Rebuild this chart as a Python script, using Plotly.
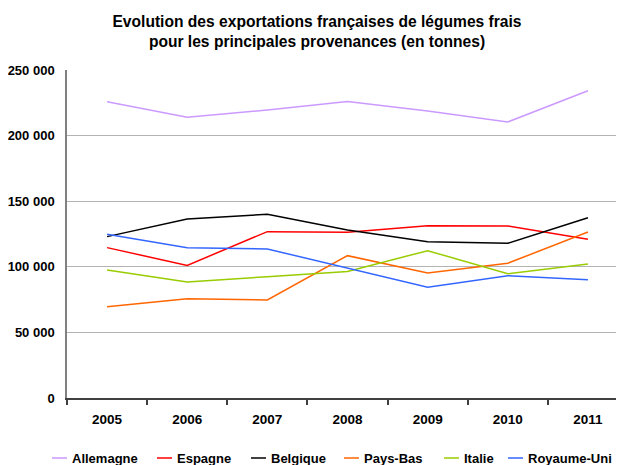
import plotly.graph_objects as go

years = ["2005", "2006", "2007", "2008", "2009", "2010", "2011"]
allemagne = [225800, 214000, 219500, 226000, 218800, 210400, 234200]
espagne = [114600, 101100, 126800, 126300, 131300, 131100, 121000]
belgique = [123000, 136400, 140000, 128100, 119100, 117900, 137400]
pays_bas = [69600, 75700, 74700, 108500, 95300, 102700, 126500]
italie = [97600, 88400, 92500, 96500, 112300, 94700, 102100]
royaume_uni = [124800, 114600, 113600, 99000, 84400, 93200, 90200]

series = [
    ("Allemagne", allemagne, "#CC99FF"),
    ("Espagne", espagne, "#FF0000"),
    ("Belgique", belgique, "#000000"),
    ("Pays-Bas", pays_bas, "#FF6600"),
    ("Italie", italie, "#99CC00"),
    ("Royaume-Uni", royaume_uni, "#3366FF"),
]

y_tickvals = [0, 50000, 100000, 150000, 200000, 250000]
y_ticktext = ["0", "50 000", "100 000", "150 000", "200 000", "250 000"]

FONT = "Liberation Sans, Arial, sans-serif"
OFF = 8  # page body margin offset
W, H = 624 - OFF, 465 - OFF
ML, MR, MT, MB = 67 - OFF, 0, 70 - OFF, 465 - 398
PW, PH = W - ML - MR, H - MT - MB

# legend layout (screen pixel x of each entry's line sample start)
legend_x_px = [52, 157, 251, 344, 444, 508]
legend_y_px = 458

fig = go.Figure()
for name, vals, color in series:
    fig.add_trace(go.Scatter(x=years, y=vals, name=name, mode="lines",
                             line=dict(color=color, width=1.5), showlegend=False))

# custom one-row legend
legend_y = -((legend_y_px - OFF) - (H - MB)) / PH
for (name, vals, color), px in zip(series, legend_x_px):
    sx = px - OFF
    fig.add_shape(type="line", xref="paper", yref="paper",
                  x0=(sx - ML) / PW, x1=(sx + 15 - ML) / PW,
                  y0=legend_y, y1=legend_y, line=dict(color=color, width=1.5))
    fig.add_annotation(text=name, xref="paper", yref="paper",
                       x=(sx + 18 - ML) / PW, y=legend_y, xanchor="left", yanchor="middle",
                       showarrow=False,
                       font=dict(size=13, family=FONT, color="black", weight="bold"))

fig.update_layout(
    width=W, height=H,
    margin=dict(l=ML, r=MR, t=MT, b=MB),
    plot_bgcolor="white", paper_bgcolor="white",
    font=dict(family=FONT, color="black"),
    title=dict(
        text="Evolution des exportations françaises de légumes frais<br>pour les principales provenances (en tonnes)",
        x=(317 - OFF) / W, xref="container", xanchor="center",
        y=1 - 19 / H, yref="container", yanchor="top",
        font=dict(size=15.6, family=FONT, color="black", weight="bold"),
    ),
    showlegend=False,
)

fig.update_xaxes(
    type="category", range=[-0.5, 6.45], automargin=False,
    showgrid=False, showline=True, linecolor="#404040", linewidth=1.5,
    ticks="outside", tickson="boundaries", ticklen=5, tickcolor="#404040", tickwidth=1.5,
    tickfont=dict(size=13.5, family=FONT, color="black", weight="bold"),
    ticklabelstandoff=8,
)
fig.update_yaxes(
    range=[0, 250000], tickvals=y_tickvals, ticktext=y_ticktext, automargin=False,
    showgrid=True, gridcolor="#B3B3B3", gridwidth=1,
    showline=True, linecolor="#808080", linewidth=1.5,
    ticks="", zeroline=False,
    tickfont=dict(size=13, family=FONT, color="black", weight="bold"),
    ticklabelstandoff=8,
)

fig.write_html("out.html")
